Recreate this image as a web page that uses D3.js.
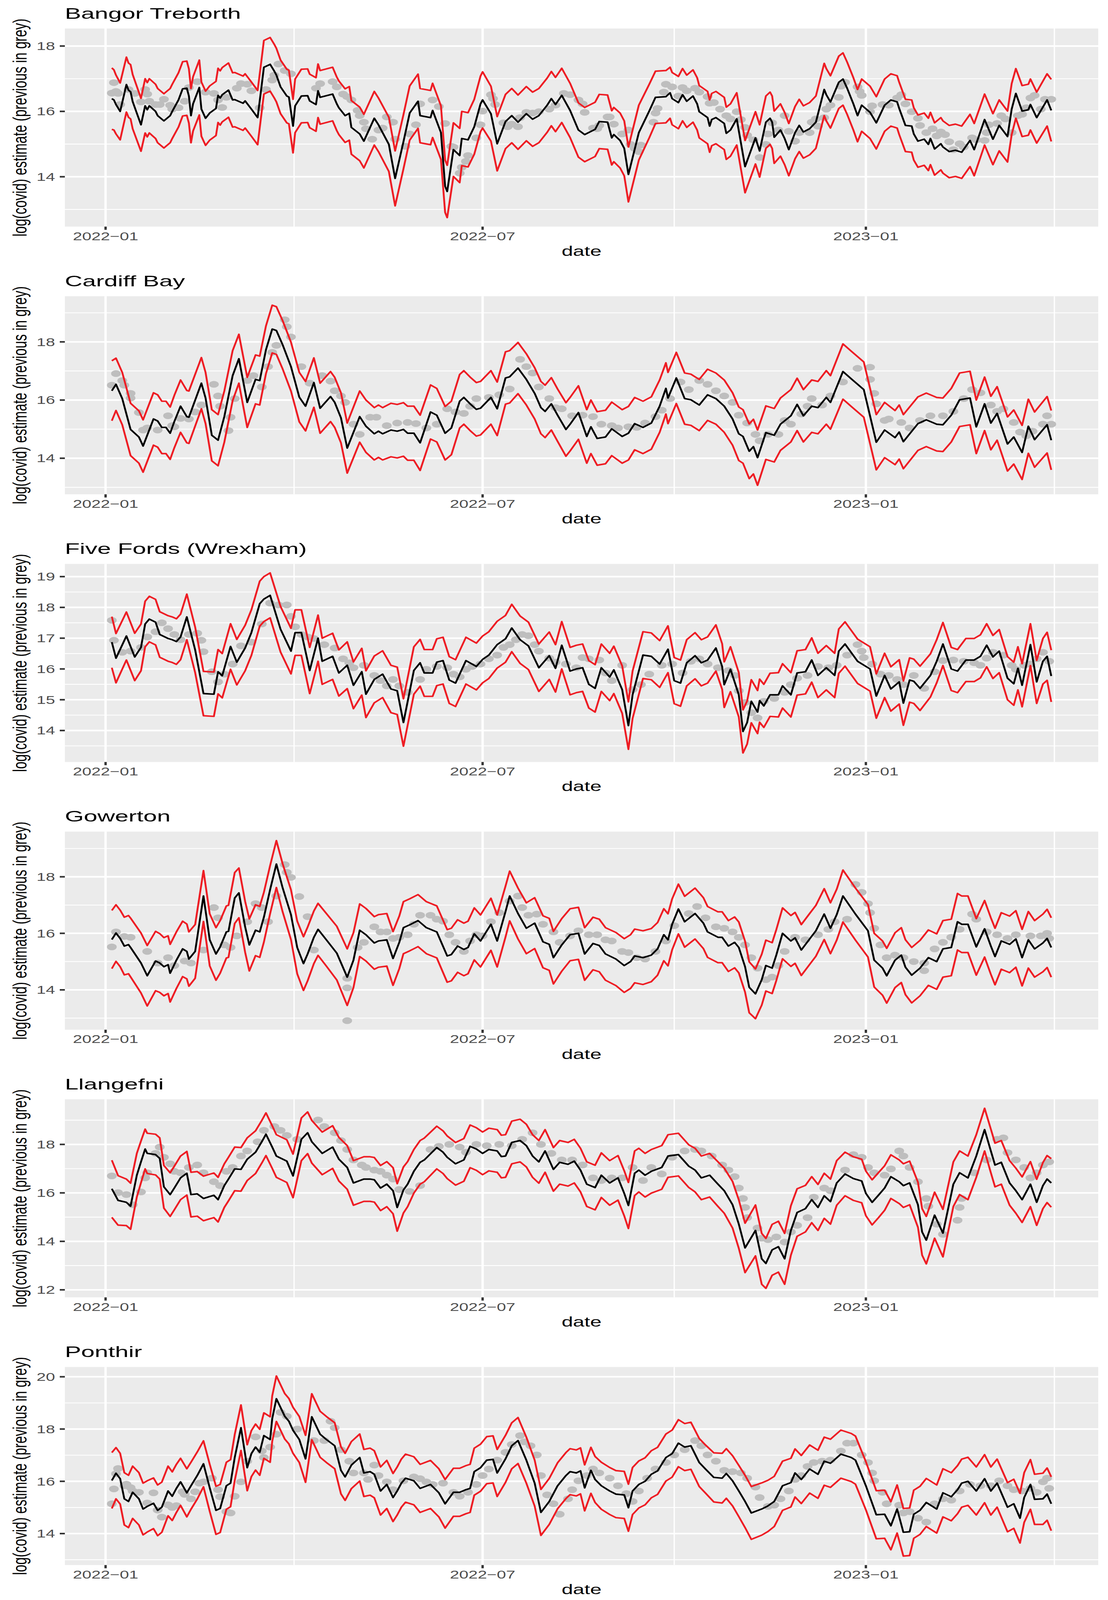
<!DOCTYPE html>
<html>
<head>
<meta charset="utf-8">
<script src="https://cdn.jsdelivr.net/npm/d3@7"></script>
<style>
  html, body { margin: 0; padding: 0; background: #fff; overflow: hidden; }
  svg { display: block; width: 100vw; height: 100vh; }
</style>
</head>
<body>
<script>
// sites, one panel each
const siteNames = ['Bangor Treborth', 'Cardiff Bay', 'Five Fords (Wrexham)', 'Gowerton', 'Llangefni', 'Ponthir'];

// estimate rows: [day since 2022-01-01, log estimate, half width of red band]
const bangorEst = [[3,16.39,.94],[4,16.35,.92],[5,16.21,.9],[7,16.0,.87],[10,16.82,.84],[11,16.65,.83],[12,16.6,.83],[13,16.3,.83],[17,15.59,.81],[19,16.17,.83],[20,16.05,.83],[21,16.17,.83],[24,16.0,.83],[25,15.87,.83],[28,15.71,.83],[31,15.87,.83],[32,16.0,.83],[35,16.35,.83],[37,16.69,.83],[39,16.71,.83],[40,16.47,.83],[41,15.87,.83],[42,16.23,.83],[45,16.73,.84],[46,16.07,.83],[48,15.79,.83],[50,15.95,.83],[53,16.09,.83],[54,16.49,.83],[55,16.41,.83],[56,16.51,.83],[59,16.65,.83],[61,16.35,.83],[62,16.36,.83],[66,16.25,.83],[67,16.32,.83],[70,16.07,.83],[73,15.81,.83],[75,16.83,.82],[76,17.35,.82],[79,17.44,.82],[81,17.23,.82],[82,17.11,.82],[84,16.75,.82],[87,16.47,.82],[88,16.44,.82],[90,15.55,.82],[91,16.17,.82],[94,16.47,.82],[97,16.48,.82],[98,16.32,.82],[101,16.21,.82],[102,16.63,.82],[103,16.43,.82],[109,16.53,.82],[111,16.23,.82],[112,16.11,.82],[115,15.87,.82],[117,15.94,.82],[118,15.51,.82],[122,15.31,.82],[124,15.09,.82],[129,15.79,.82],[131,15.59,.82],[136,14.99,.83],[139,13.95,.84],[143,15.07,.83],[146,15.95,.83],[150,16.31,.83],[151,15.87,.83],[156,15.81,.83],[157,16.03,.83],[161,15.35,.82],[163,13.71,.8],[164,13.55,.8],[167,14.83,.82],[170,14.65,.83],[171,15.17,.83],[174,15.13,.83],[177,15.53,.84],[180,16.23,.85],[181,16.35,.86],[185,15.93,.84],[188,15.01,.83],[192,15.69,.83],[195,15.87,.83],[198,15.67,.83],[202,15.93,.83],[205,15.76,.83],[208,15.87,.83],[212,16.19,.83],[214,16.39,.83],[216,16.21,.83],[219,16.49,.83],[223,16.03,.83],[227,15.43,.83],[230,15.29,.83],[235,15.45,.83],[237,15.69,.83],[241,15.67,.83],[243,15.19,.83],[244,15.29,.83],[247,15.11,.84],[249,14.87,.84],[251,14.07,.84],[256,15.35,.84],[261,16.01,.82],[264,16.43,.8],[269,16.45,.8],[271,16.57,.78],[272,16.39,.8],[275,16.27,.8],[277,16.51,.8],[279,16.31,.8],[282,16.47,.8],[284,16.23,.8],[285,15.99,.8],[289,15.81,.8],[290,15.55,.8],[291,15.75,.8],[293,15.81,.8],[297,15.63,.8],[298,15.33,.8],[300,15.43,.8],[303,15.77,.8],[307,14.31,.8],[312,15.19,.8],[314,14.79,.8],[317,15.67,.8],[319,15.79,.8],[320,15.67,.8],[321,15.21,.8],[324,15.43,.8],[326,15.17,.8],[328,14.83,.8],[331,15.35,.8],[333,15.57,.8],[335,15.37,.8],[338,15.47,.8],[341,15.67,.8],[345,16.67,.8],[346,16.51,.8],[348,16.29,.8],[352,16.89,.8],[354,16.99,.8],[356,16.71,.8],[359,16.23,.8],[361,15.87,.8],[363,16.19,.8],[367,15.97,.8],[370,15.65,.8],[374,16.19,.8],[377,16.35,.8],[380,16.29,.8],[381,16.09,.8],[384,15.57,.8],[387,15.55,.8],[388,15.31,.8],[390,15.09,.8],[393,15.15,.8],[395,14.99,.8],[396,15.17,.8],[398,14.85,.8],[401,15.01,.8],[402,14.91,.8],[405,14.77,.8],[408,14.81,.8],[411,14.75,.8],[415,15.11,.8],[417,14.83,.8],[422,15.75,.78],[426,15.15,.78],[429,15.57,.78],[433,15.23,.78],[435,16.07,.78],[437,16.55,.76],[440,16.01,.78],[443,16.05,.78],[444,16.21,.78],[447,15.81,.78],[452,16.35,.8],[454,16.03,.95]];

const cardiffEst = [[3,16.32,1.03],[5,16.54,.9],[8,16.05,.9],[12,14.99,.9],[16,14.73,.9],[18,14.42,.9],[23,15.35,.9],[25,15.28,.9],[27,15.06,.9],[29,15.06,.9],[31,14.86,.9],[33,15.26,.9],[36,15.79,.9],[39,15.43,.9],[40,15.41,.9],[46,16.58,.88],[48,16.07,.88],[51,14.79,.88],[54,14.62,.88],[57,15.43,.88],[61,16.84,.86],[64,17.42,.84],[68,15.92,.86],[72,16.71,.84],[74,16.67,.84],[77,17.73,.82],[80,18.44,.82],[82,18.39,.82],[85,17.9,.83],[89,17.15,.84],[93,16.1,.85],[96,15.79,.85],[100,16.6,.85],[103,15.72,.86],[108,16.12,.86],[110,15.92,.86],[113,15.39,.86],[116,14.35,.86],[122,15.43,.88],[125,15.1,.9],[129,14.84,.9],[131,14.93,.9],[133,14.84,.9],[137,14.97,.92],[140,14.93,.92],[143,14.99,.92],[145,14.86,.93],[148,14.86,.93],[151,14.53,.95],[156,15.59,.93],[159,15.48,.92],[163,14.86,.92],[166,15.04,.92],[170,15.96,.92],[172,16.09,.92],[175,15.87,.92],[178,15.68,.92],[180,15.72,.92],[185,16.09,.92],[188,15.7,.92],[192,16.76,.9],[194,16.8,.9],[198,17.1,.88],[202,16.71,.88],[206,16.23,.88],[209,15.74,.9],[211,15.61,.9],[214,15.87,.9],[217,15.48,.9],[221,14.99,.92],[223,15.17,.92],[227,15.57,.92],[231,14.75,.92],[233,15.08,.92],[236,14.68,.92],[240,14.73,.92],[243,15.01,.92],[248,14.75,.92],[251,14.86,.92],[254,15.19,.9],[258,15.06,.9],[262,15.21,.9],[266,15.79,.9],[269,16.4,.88],[270,16.07,.88],[274,16.76,.88],[278,16.05,.88],[281,16.01,.88],[285,15.83,.88],[289,16.18,.88],[293,16.05,.88],[297,15.79,.9],[301,15.35,.9],[304,14.84,.92],[306,14.75,.92],[309,14.24,.94],[311,14.4,.94],[313,14.02,.95],[317,14.88,.92],[321,14.79,.92],[324,15.17,.9],[329,15.46,.9],[332,15.85,.9],[335,15.46,.9],[339,15.79,.9],[342,15.74,.9],[346,16.09,.92],[348,15.92,.92],[354,16.98,.95],[358,16.73,.95],[364,16.36,.95],[370,14.55,.95],[374,14.97,.95],[379,14.71,.93],[381,14.9,.93],[383,14.57,.93],[390,15.19,.92],[394,15.32,.92],[399,15.17,.92],[402,15.15,.92],[406,15.48,.92],[410,16.01,.92],[415,16.07,.92],[418,15.08,.92],[422,15.87,.92],[425,15.21,.92],[428,15.54,.92],[433,14.49,.93],[436,14.73,.93],[440,14.2,.93],[443,15.1,.93],[446,14.64,.95],[452,15.15,.97],[454,14.62,1.02]];

const fiveFordsEst = [[3,16.87,.83],[5,16.35,.8],[10,17.07,.78],[14,16.39,.77],[17,16.7,.76],[19,17.46,.74],[21,17.62,.74],[24,17.52,.74],[26,17.12,.74],[30,16.99,.74],[32,16.95,.74],[34,16.89,.74],[36,17.04,.74],[39,17.69,.74],[43,16.62,.74],[47,15.2,.72],[52,15.18,.72],[54,15.91,.72],[56,15.78,.72],[60,16.73,.74],[63,16.22,.74],[67,16.68,.74],[70,17.18,.74],[74,18.12,.73],[76,18.27,.73],[79,18.39,.73],[84,17.29,.74],[89,16.58,.74],[91,17.18,.74],[94,17.18,.74],[98,15.95,.75],[102,17.0,.75],[104,16.25,.75],[109,16.41,.75],[112,15.87,.75],[116,16.12,.76],[119,15.47,.76],[123,15.91,.76],[125,15.18,.76],[129,15.66,.76],[133,15.83,.76],[137,15.35,.77],[140,15.29,.77],[143,14.26,.77],[148,15.95,.77],[151,16.2,.76],[153,15.87,.76],[157,15.87,.76],[159,16.22,.76],[162,16.27,.76],[165,15.64,.76],[168,15.54,.76],[173,16.27,.76],[178,16.08,.76],[181,16.31,.76],[184,16.45,.76],[188,16.79,.76],[192,16.98,.76],[195,17.33,.77],[199,16.95,.77],[203,16.75,.77],[208,16.04,.77],[213,16.43,.77],[216,16.02,.77],[219,16.77,.77],[223,15.93,.77],[226,16.0,.77],[229,16.04,.77],[232,15.5,.77],[235,15.37,.77],[238,16.04,.77],[242,15.74,.77],[244,15.97,.77],[248,15.33,.77],[251,14.16,.77],[253,15.16,.77],[258,16.45,.76],[262,16.41,.76],[266,16.16,.76],[270,16.64,.76],[273,15.62,.75],[276,15.54,.75],[279,16.2,.75],[283,16.43,.75],[286,16.2,.75],[289,16.29,.75],[293,16.68,.75],[296,16.08,.74],[297,15.49,.74],[300,15.99,.73],[304,15.16,.72],[306,13.97,.7],[308,14.26,.7],[310,14.95,.7],[313,14.6,.7],[314,14.97,.7],[316,14.8,.7],[319,15.16,.7],[323,15.16,.72],[325,15.45,.72],[329,15.16,.72],[332,15.87,.72],[336,15.91,.72],[339,16.29,.72],[342,15.79,.72],[346,16.04,.72],[350,15.79,.72],[352,16.58,.72],[355,16.81,.72],[361,16.25,.72],[367,16.0,.72],[370,15.12,.72],[374,15.79,.72],[377,15.35,.72],[381,15.58,.72],[383,14.89,.72],[386,15.64,.72],[388,15.6,.72],[391,15.37,.72],[396,15.79,.7],[399,16.25,.7],[402,16.81,.7],[406,16.0,.7],[409,15.93,.7],[413,16.29,.7],[417,16.29,.7],[420,16.41,.7],[423,16.77,.7],[426,16.39,.7],[429,16.58,.7],[433,15.7,.7],[436,15.52,.7],[438,16.02,.7],[440,15.47,.7],[444,16.79,.68],[447,15.58,.7],[450,16.25,.74],[452,16.41,.78],[454,15.77,.84]];

const gowertonEst = [[3,15.78,1.03],[5,16.01,1.0],[7,15.82,1.0],[9,15.55,1.02],[11,15.6,1.03],[12,15.5,1.04],[17,14.95,1.06],[20,14.5,1.07],[24,15.02,1.05],[26,14.95,1.04],[28,14.82,1.03],[30,14.89,1.02],[31,14.59,1.02],[34,15.05,1.0],[37,15.45,.98],[39,15.36,.97],[40,15.09,.96],[43,15.36,.95],[47,17.32,.9],[50,15.77,.92],[53,15.27,.93],[55,15.52,.93],[58,16.05,.92],[59,16.07,.92],[62,17.25,.9],[64,17.43,.88],[67,16.23,.9],[69,15.59,.92],[72,16.11,.9],[74,16.05,.9],[76,16.57,.88],[79,17.55,.85],[82,18.45,.83],[85,17.61,.85],[89,16.66,.88],[92,15.5,.93],[95,14.93,.95],[97,15.27,.95],[100,15.86,.93],[102,16.14,.92],[106,15.77,.93],[111,15.3,.95],[116,14.45,1.0],[119,15.05,.97],[122,16.11,.93],[125,15.95,.93],[129,15.66,.93],[131,15.73,.93],[135,15.77,.93],[138,15.11,.95],[141,15.68,.93],[143,16.2,.92],[146,16.3,.92],[150,16.45,.92],[154,16.2,.92],[159,16.05,.92],[164,15.2,.93],[166,15.25,.93],[169,15.55,.93],[172,15.43,.93],[174,15.5,.93],[177,15.98,.92],[180,15.73,.92],[185,16.32,.92],[188,15.73,.92],[192,16.77,.9],[194,17.32,.88],[198,16.7,.9],[202,16.18,.9],[206,16.36,.9],[210,15.7,.92],[213,15.61,.92],[215,15.14,.93],[219,15.59,.93],[223,15.95,.92],[227,16.0,.92],[230,15.27,.93],[234,15.64,.93],[237,15.57,.93],[240,15.27,.93],[245,15.09,.94],[249,14.86,.95],[252,15.0,.95],[254,15.2,.95],[258,15.14,.95],[262,15.23,.94],[265,15.45,.93],[268,15.95,.92],[270,15.77,.92],[272,16.32,.9],[275,16.86,.88],[278,16.41,.9],[283,16.7,.9],[287,16.36,.9],[289,16.05,.9],[294,15.86,.9],[296,15.86,.9],[299,15.55,.9],[302,15.68,.9],[304,15.5,.9],[307,14.82,.9],[309,14.09,.9],[312,13.86,.88],[315,14.36,.9],[317,14.86,.9],[320,14.77,.9],[322,15.23,.9],[325,16.0,.9],[329,15.73,.9],[331,15.84,.9],[334,15.41,.9],[338,15.8,.9],[341,16.09,.9],[345,16.68,.9],[348,16.18,.9],[351,16.66,.9],[354,17.32,.92],[360,16.68,.92],[366,16.09,.93],[369,15.05,.95],[373,14.77,.96],[375,14.5,.97],[379,15.05,.97],[382,15.23,.97],[384,14.8,.97],[387,14.52,.98],[391,14.77,.98],[395,15.14,.98],[399,15.0,.98],[402,15.45,1.0],[406,15.5,1.0],[409,16.41,1.0],[411,16.32,1.0],[414,16.32,1.0],[418,15.52,1.0],[422,16.16,1.0],[425,15.55,1.0],[427,15.18,1.0],[430,15.73,1.0],[434,15.61,1.0],[437,15.8,1.0],[440,15.14,1.0],[443,15.77,1.0],[446,15.45,1.0],[450,15.66,1.02],[452,15.82,1.03],[454,15.5,1.05]];

const llangefniEst = [[3,16.17,1.18],[6,15.69,1.02],[10,15.61,.96],[12,15.45,.95],[15,16.73,.9],[17,17.28,.86],[19,17.81,.82],[20,17.63,.83],[24,17.58,.84],[26,17.42,.85],[28,16.25,.88],[31,15.93,.9],[33,16.2,.9],[36,16.62,.9],[39,16.81,.9],[41,15.93,.92],[44,15.96,.92],[47,15.77,.92],[50,15.85,.92],[52,15.9,.92],[54,15.72,.92],[57,16.3,.9],[59,16.57,.9],[62,16.99,.9],[65,16.97,.9],[68,17.39,.88],[72,17.68,.88],[75,18.11,.88],[77,18.42,.88],[80,17.89,.88],[82,17.52,.88],[87,17.31,.88],[90,16.7,.9],[94,18.21,.88],[97,18.48,.86],[99,18.11,.88],[104,17.63,.88],[109,17.89,.88],[112,17.39,.9],[116,17.05,.9],[119,16.41,.92],[124,16.57,.92],[127,16.57,.92],[129,16.54,.92],[132,16.2,.93],[135,16.36,.93],[138,16.09,.95],[140,15.4,.98],[143,16.12,.95],[145,16.36,.93],[148,16.89,.9],[151,17.26,.9],[153,17.36,.9],[159,17.87,.88],[162,17.68,.88],[164,17.47,.88],[168,17.2,.88],[172,17.36,.88],[175,17.92,.88],[178,17.81,.88],[181,17.63,.88],[184,17.79,.88],[188,17.73,.88],[190,17.5,.88],[192,17.52,.88],[195,18.08,.88],[199,18.16,.88],[202,17.95,.88],[205,17.52,.88],[208,17.28,.88],[211,17.73,.88],[215,16.97,.9],[218,17.26,.9],[222,17.18,.9],[225,17.31,.9],[228,16.94,.9],[231,16.36,.92],[235,16.22,.92],[238,16.73,.92],[242,16.41,.92],[246,16.62,.92],[249,15.98,.93],[251,15.48,.95],[254,16.81,.92],[256,16.94,.9],[259,16.73,.9],[262,16.89,.9],[267,17.05,.9],[270,17.52,.88],[275,17.58,.88],[280,17.1,.88],[283,16.94,.9],[286,16.62,.9],[290,16.73,.9],[294,16.36,.92],[297,16.09,.93],[301,15.51,.96],[304,14.71,1.0],[307,13.73,1.02],[312,14.45,1.05],[315,13.28,1.05],[317,13.09,1.03],[320,13.65,1.05],[323,13.78,1.05],[326,13.28,1.05],[329,14.45,1.02],[332,15.19,.98],[336,15.35,.96],[339,15.72,.95],[342,15.4,.95],[345,15.88,.93],[348,15.64,.93],[351,16.41,.92],[355,16.78,.9],[359,16.59,.9],[363,16.49,.9],[365,15.98,.92],[368,15.61,.93],[371,15.9,.93],[374,16.2,.92],[377,16.67,.9],[381,16.46,.9],[383,16.3,.9],[386,16.41,.9],[390,15.51,.93],[392,14.39,.96],[394,14.05,.98],[398,15.08,.95],[402,14.34,.98],[407,16.36,.92],[410,16.83,.9],[414,16.62,.9],[418,17.52,.88],[422,18.61,.88],[425,17.73,.9],[427,17.15,.9],[430,17.26,.9],[434,16.41,.92],[437,16.09,.93],[440,15.72,.94],[444,16.36,.93],[447,15.61,.95],[450,16.3,.95],[452,16.57,.97],[454,16.41,1.0]];

const ponthirEst = [[3,16.03,1.07],[5,16.31,.98],[7,16.1,.97],[9,15.33,1.0],[11,15.23,1.0],[13,15.58,1.0],[16,15.33,1.0],[18,14.94,.99],[20,15.04,.98],[23,15.16,.97],[25,14.89,.97],[27,15.01,.96],[30,15.63,.95],[32,15.43,.93],[34,15.73,.92],[36,15.98,.9],[39,15.56,.92],[41,15.83,.9],[44,16.22,.9],[47,16.67,.88],[50,15.75,.9],[53,14.89,.92],[55,14.96,.92],[58,15.83,.9],[60,15.93,.9],[62,16.91,.88],[65,18.05,.87],[68,16.52,.88],[70,17.06,.88],[72,17.31,.88],[74,17.11,.88],[76,17.75,.87],[79,17.6,.87],[80,18.4,.87],[82,19.16,.87],[86,18.49,.87],[88,18.3,.87],[90,17.95,.88],[93,17.6,.88],[96,16.86,.9],[99,18.47,.88],[103,17.8,.88],[106,17.6,.88],[110,17.36,.88],[113,16.42,.9],[115,16.17,.9],[118,16.62,.9],[122,16.91,.9],[124,16.32,.9],[127,16.37,.9],[129,16.27,.9],[132,15.63,.92],[135,15.88,.92],[138,15.38,.92],[140,15.63,.92],[142,15.93,.92],[144,16.12,.92],[148,16.02,.92],[151,15.73,.92],[156,15.88,.92],[160,15.56,.92],[163,15.14,.93],[167,15.58,.92],[170,15.58,.92],[173,15.68,.92],[175,15.73,.92],[177,16.37,.9],[180,16.52,.9],[183,16.81,.9],[186,16.84,.9],[188,16.32,.9],[192,16.86,.9],[195,17.36,.88],[198,17.56,.88],[202,16.81,.88],[206,15.93,.88],[209,14.81,.88],[213,15.23,.88],[217,15.83,.88],[221,16.22,.88],[223,16.37,.88],[226,16.32,.88],[228,16.4,.88],[230,15.75,.88],[233,16.42,.88],[235,16.07,.88],[238,15.83,.9],[242,15.63,.9],[245,15.51,.9],[249,15.48,.9],[251,14.99,.9],[253,15.63,.9],[256,15.88,.9],[259,16.0,.9],[262,16.27,.9],[265,16.4,.9],[269,16.91,.9],[272,17.06,.9],[275,17.46,.9],[278,17.31,.9],[281,17.36,.9],[285,16.72,.92],[288,16.47,.92],[292,16.15,.94],[296,16.12,.95],[298,16.3,.95],[301,16.02,.96],[304,15.63,.98],[307,15.23,1.0],[310,14.79,1.01],[315,14.94,1.0],[318,15.06,.98],[321,15.23,.96],[325,15.83,.94],[329,15.95,.93],[331,16.32,.92],[334,16.07,.92],[338,16.47,.92],[342,16.27,.92],[345,16.77,.92],[348,16.69,.92],[353,17.04,.92],[358,16.91,.92],[360,16.81,.92],[365,15.83,.92],[370,14.72,.92],[374,14.74,.92],[377,14.3,.92],[380,14.94,.92],[383,14.05,.91],[386,14.07,.91],[388,14.74,.92],[391,14.89,.92],[394,15.19,.92],[399,14.94,.92],[402,15.56,.92],[406,15.41,.92],[409,15.68,.92],[411,15.93,.92],[414,16.0,.92],[418,15.63,.92],[422,16.1,.92],[425,15.63,.92],[428,15.93,.92],[433,15.01,.94],[436,15.14,.94],[439,14.59,.95],[441,15.38,.95],[444,15.88,.95],[446,15.31,.96],[450,15.33,.98],[452,15.51,1.0],[454,15.14,1.03]];

// previous estimates (grey points): [day, log estimate]
const bangorPrev = [[3,16.56],[4,16.88],[5,16.61],[6,16.55],[7,16.21],[11,16.67],[14,16.55],[17,16.29],[19,16.67],[20,16.53],[21,16.31],[24,16.21],[26,16.21],[28,16.37],[31,16.19],[32,16.07],[35,16.11],[38,16.31],[40,16.73],[44,16.91],[48,16.59],[52,16.55],[54,16.35],[56,16.12],[58,16.43],[63,16.71],[65,16.85],[68,16.83],[70,16.63],[74,16.11],[77,16.67],[80,16.96],[81,17.11],[83,17.45],[86,17.25],[89,17.15],[101,16.71],[103,16.85],[109,16.91],[111,16.75],[114,16.53],[116,16.45],[118,16.35],[121,16.03],[122,15.87],[124,15.67],[125,15.47],[128,15.15],[131,15.43],[133,15.49],[135,15.83],[138,15.67],[139,15.15],[144,14.93],[146,15.31],[149,15.59],[151,16.23],[157,16.35],[160,16.15],[163,15.63],[166,14.93],[167,14.91],[170,14.11],[171,14.29],[173,14.47],[174,14.65],[178,15.19],[180,15.59],[181,16.01],[185,16.51],[186,16.39],[187,16.21],[191,15.65],[193,15.53],[195,15.61],[198,15.53],[199,15.81],[202,15.97],[205,15.95],[208,15.99],[213,16.07],[216,16.19],[220,16.55],[223,16.51],[227,16.35],[229,16.23],[230,15.97],[234,15.49],[236,15.47],[237,15.57],[241,15.83],[242,15.83],[244,15.61],[248,15.31],[251,15.43],[252,14.99],[254,14.87],[256,14.77],[257,14.97],[263,15.67],[264,15.95],[265,16.09],[268,16.59],[269,16.83],[272,16.75],[275,16.47],[277,16.73],[279,16.63],[283,16.71],[285,16.59],[289,16.45],[290,16.25],[292,16.27],[295,16.07],[298,15.87],[300,15.77],[303,15.99],[305,15.75],[307,15.51],[308,15.27],[311,15.13],[314,14.59],[317,14.99],[318,15.31],[320,15.65],[323,15.43],[326,15.87],[328,15.39],[331,15.09],[333,15.35],[338,15.35],[339,15.67],[341,15.77],[342,15.55],[345,15.81],[346,16.07],[348,16.19],[352,16.43],[353,16.77],[355,16.89],[361,16.75],[362,16.61],[363,16.49],[367,15.99],[368,16.17],[373,16.21],[376,16.19],[380,16.41],[382,16.51],[384,16.23],[387,15.99],[390,15.79],[391,15.57],[394,15.35],[397,15.47],[399,15.25],[401,15.37],[403,15.29],[405,15.07],[407,14.83],[410,15.01],[412,14.91],[416,15.19],[418,15.13],[422,15.11],[423,15.35],[424,15.59],[428,15.63],[430,15.87],[432,15.77],[435,15.35],[438,15.87],[440,15.91],[442,16.11],[444,16.41],[446,16.49],[449,16.07],[451,16.37],[454,16.37]];

const cardiffPrev = [[3,16.51],[5,16.91],[8,16.67],[9,16.51],[12,16.23],[12,16.07],[16,15.57],[18,14.97],[20,15.04],[25,14.97],[30,15.46],[32,15.12],[33,15.08],[36,15.37],[40,15.35],[43,15.59],[46,15.83],[52,16.54],[54,16.14],[55,15.79],[59,14.95],[60,15.41],[62,16.05],[68,16.67],[71,16.84],[75,16.45],[78,17.15],[80,17.64],[82,17.88],[86,18.76],[87,18.52],[89,18.17],[94,17.15],[98,16.58],[104,16.84],[108,16.65],[110,16.32],[113,16.14],[115,15.92],[119,15.17],[122,14.82],[127,15.41],[130,15.41],[135,15.12],[140,15.21],[145,15.23],[149,15.19],[154,15.04],[159,15.17],[164,15.7],[168,15.59],[172,15.54],[175,15.79],[178,16.05],[184,16.09],[189,16.18],[194,16.38],[199,17.4],[202,17.15],[205,16.93],[208,16.45],[213,16.05],[216,15.74],[219,15.7],[224,15.46],[229,15.48],[234,15.43],[238,15.17],[243,15.12],[246,15.04],[251,15.08],[255,15.06],[259,15.21],[264,15.43],[267,15.65],[271,16.05],[276,16.62],[280,16.36],[285,16.67],[289,16.54],[293,16.32],[297,16.14],[301,15.92],[304,15.48],[308,15.21],[312,14.82],[314,14.6],[318,14.82],[323,14.82],[326,15.3],[329,15.17],[334,15.52],[337,15.79],[339,16.05],[344,15.83],[348,16.14],[354,16.62],[361,17.09],[367,17.13],[367,16.71],[369,16.23],[370,15.87],[374,15.3],[376,15.35],[382,15.23],[386,15.04],[391,15.3],[396,15.46],[402,15.46],[407,15.61],[412,16.05],[416,16.36],[420,16.25],[425,15.83],[428,15.61],[431,15.7],[436,15.23],[439,14.9],[442,14.77],[445,14.93],[450,15.17],[452,15.46],[454,15.17]];

const fiveFordsPrev = [[3,17.58],[4,16.93],[8,16.54],[12,16.58],[17,16.7],[20,17.04],[24,17.21],[27,17.5],[30,17.31],[33,17.12],[36,16.95],[40,17.12],[44,17.16],[46,16.93],[47,16.56],[51,15.91],[54,15.58],[57,15.83],[61,16.16],[65,16.75],[70,16.87],[75,17.46],[79,18.14],[83,18.08],[87,18.08],[89,17.71],[91,17.37],[94,17.12],[97,17.04],[100,16.99],[105,16.79],[110,16.68],[114,16.33],[117,16.2],[119,16.04],[124,16.12],[129,15.79],[132,15.62],[135,15.45],[138,15.66],[141,15.45],[145,15.24],[151,15.66],[154,15.99],[159,16.08],[164,16.04],[167,15.83],[170,15.74],[173,15.99],[176,16.08],[180,16.16],[184,16.33],[188,16.45],[191,16.7],[194,16.79],[197,16.95],[200,17.12],[203,17.08],[206,16.79],[208,16.58],[213,16.35],[216,16.22],[221,16.16],[226,16.04],[229,16.37],[232,16.33],[237,16.29],[240,15.87],[243,15.62],[248,16.12],[253,15.33],[257,15.49],[261,15.83],[267,16.12],[272,16.16],[277,15.87],[281,16.25],[285,16.33],[289,16.16],[294,16.04],[299,15.95],[302,15.79],[304,15.29],[307,14.91],[310,14.58],[313,14.41],[316,14.95],[321,15.04],[326,15.24],[329,15.49],[332,15.7],[337,15.79],[342,16.08],[347,16.04],[351,16.12],[356,16.45],[361,16.79],[363,16.58],[364,16.37],[368,16.16],[372,15.83],[376,15.79],[380,15.66],[383,15.49],[388,15.79],[393,15.37],[398,15.91],[402,16.27],[407,16.29],[412,16.25],[417,16.2],[420,16.12],[423,16.35],[426,16.54],[431,16.45],[435,16.12],[437,15.99],[441,16.12],[444,16.16],[447,16.33],[450,16.54],[453,16.25]];

const gowertonPrev = [[3,15.52],[5,16.05],[9,15.89],[12,15.86],[20,15.36],[25,14.95],[30,15.14],[33,14.86],[38,15.02],[41,14.95],[47,15.41],[52,16.91],[54,16.55],[57,15.59],[60,15.5],[63,15.91],[68,16.41],[72,17.05],[75,16.91],[78,16.41],[82,17.32],[86,18.43],[87,18.16],[89,17.98],[93,17.3],[97,16.59],[100,15.41],[116,14.41],[116,14.07],[116,12.91],[121,15.5],[124,15.68],[129,16.23],[132,16.05],[135,16.05],[138,15.82],[141,15.86],[145,15.95],[148,16.32],[151,16.64],[156,16.64],[159,16.5],[162,16.43],[165,15.95],[168,15.68],[172,15.36],[175,15.73],[178,15.95],[181,15.91],[185,16.41],[189,16.73],[194,17.14],[198,17.32],[200,16.91],[203,16.64],[207,16.68],[210,16.32],[215,16.05],[218,15.68],[223,15.91],[227,16.09],[232,15.95],[236,15.95],[240,15.77],[243,15.73],[248,15.36],[251,15.32],[255,15.14],[259,15.09],[264,15.36],[269,15.73],[273,16.27],[280,16.7],[284,16.95],[288,16.55],[293,16.23],[297,16.18],[301,16.05],[304,15.86],[307,15.59],[310,15.14],[313,14.77],[317,14.36],[320,14.45],[323,14.86],[326,15.36],[331,15.86],[336,15.77],[342,15.95],[347,16.14],[350,16.41],[356,16.5],[360,17.73],[363,17.45],[366,17.05],[367,16.73],[369,16.18],[372,15.59],[375,15.14],[379,15.23],[383,15.14],[388,15.0],[393,14.95],[393,14.68],[398,15.45],[402,15.68],[406,15.86],[410,16.14],[416,16.68],[418,16.5],[423,16.05],[428,15.95],[433,15.82],[437,15.95],[444,15.91],[449,15.91],[452,16.0],[453,15.82]];

const llangefniPrev = [[3,16.7],[6,16.01],[10,15.93],[13,15.51],[17,16.04],[19,16.62],[20,16.83],[24,17.63],[26,17.89],[28,17.47],[31,17.2],[33,16.89],[36,16.83],[40,17.05],[44,17.15],[47,16.83],[52,16.46],[55,16.3],[58,16.89],[61,17.05],[65,17.52],[68,17.73],[73,18.11],[76,18.58],[81,18.74],[84,18.58],[87,18.37],[92,18.21],[102,19.01],[105,18.74],[110,18.48],[113,18.16],[116,17.79],[119,17.36],[123,17.15],[125,17.05],[129,16.94],[132,16.89],[135,16.73],[138,16.57],[141,16.14],[146,16.06],[151,16.3],[156,17.79],[160,17.92],[165,18.0],[170,17.89],[173,17.68],[178,18.0],[183,17.95],[189,18.0],[195,17.95],[200,18.21],[205,18.48],[209,18.0],[214,17.63],[219,17.36],[224,17.36],[229,17.15],[234,16.62],[238,16.51],[243,16.62],[248,16.62],[253,17.05],[258,16.51],[262,17.05],[267,16.78],[272,17.47],[278,17.73],[283,17.79],[286,17.73],[291,17.52],[296,17.15],[299,16.94],[302,16.67],[304,16.2],[306,15.77],[307,15.4],[308,14.98],[313,14.55],[315,14.13],[318,14.07],[322,14.18],[326,13.97],[329,14.39],[332,14.66],[337,14.98],[340,15.82],[345,16.2],[348,16.09],[355,16.94],[359,17.58],[363,17.47],[366,17.05],[369,16.83],[374,16.73],[377,16.99],[381,17.73],[383,17.52],[386,17.05],[390,16.46],[394,15.77],[395,15.45],[399,14.71],[402,14.29],[409,14.87],[410,15.4],[411,15.77],[417,16.83],[423,17.36],[428,18.21],[431,18.27],[433,17.66],[437,17.36],[441,17.05],[444,16.62],[447,16.83],[450,17.15],[453,17.28]];

const ponthirPrev = [[3,15.14],[4,15.71],[5,16.29],[6,16.49],[9,15.83],[10,15.89],[12,15.76],[13,15.63],[16,15.58],[20,15.17],[23,15.56],[25,14.9],[27,14.63],[30,15.1],[32,15.0],[34,15.07],[37,15.6],[38,15.5],[41,15.33],[43,15.6],[45,15.93],[47,15.98],[51,16.12],[54,15.68],[55,15.41],[58,14.84],[60,14.79],[62,15.43],[65,15.98],[68,16.77],[72,17.7],[75,17.16],[76,16.91],[79,17.31],[82,17.8],[84,18.64],[87,18.49],[92,18.0],[100,17.56],[105,17.56],[108,18.3],[110,18.05],[113,17.21],[117,16.77],[119,16.32],[124,16.32],[126,16.07],[129,16.62],[131,16.22],[135,15.98],[138,15.68],[143,16.02],[148,16.17],[151,16.1],[154,15.98],[157,15.88],[162,15.93],[167,15.58],[170,15.43],[174,15.58],[178,15.88],[181,16.22],[184,16.47],[188,16.81],[192,17.11],[195,17.41],[199,17.75],[201,17.51],[204,17.36],[207,17.01],[209,16.22],[212,15.48],[215,15.14],[218,14.74],[222,15.33],[224,15.68],[227,16.02],[231,16.22],[234,16.47],[237,16.32],[242,16.12],[246,15.83],[250,15.53],[253,15.23],[256,15.63],[260,16.12],[264,16.47],[269,16.72],[273,17.01],[278,17.21],[283,17.56],[286,17.36],[289,17.01],[293,16.77],[297,16.42],[301,16.37],[305,16.32],[308,16.12],[312,15.78],[314,15.38],[318,15.04],[321,15.09],[324,15.33],[328,15.63],[331,16.07],[334,16.22],[337,16.57],[340,16.72],[344,16.77],[348,16.81],[353,17.16],[356,17.46],[359,17.46],[363,17.01],[366,16.72],[368,16.32],[369,16.02],[373,15.58],[375,15.14],[381,15.09],[383,14.79],[386,14.84],[390,14.59],[394,14.44],[398,15.14],[402,15.33],[406,15.28],[410,15.63],[415,15.88],[420,15.83],[425,15.83],[429,16.02],[433,15.83],[436,15.68],[440,15.63],[444,15.73],[447,15.58],[450,15.98],[452,16.12],[453,15.73]];

// y breaks per panel and x breaks
const bangorTicks = [14, 16, 18];
const cardiffTicks = [14, 16, 18];
const fiveFordsTicks = [14, 15, 16, 17, 18, 19];
const gowertonTicks = [14, 16, 18];
const llangefniTicks = [12, 14, 16, 18];
const ponthirTicks = [14, 16, 18, 20];
const xBreaks = ['2022-01-01', '2022-07-01', '2023-01-01'];

const panels = [
  { title: siteNames[0], est: bangorEst, prev: bangorPrev, ticks: bangorTicks },
  { title: siteNames[1], est: cardiffEst, prev: cardiffPrev, ticks: cardiffTicks },
  { title: siteNames[2], est: fiveFordsEst, prev: fiveFordsPrev, ticks: fiveFordsTicks },
  { title: siteNames[3], est: gowertonEst, prev: gowertonPrev, ticks: gowertonTicks },
  { title: siteNames[4], est: llangefniEst, prev: llangefniPrev, ticks: llangefniTicks },
  { title: siteNames[5], est: ponthirEst, prev: ponthirPrev, ticks: ponthirTicks }
];

const W = 2836, H = 4992;
const blockH = 835.2, blockTop0 = -16;
const pLeft = 166, pRight = 2811, pTop = 105, pBottom = 723;
const font = '"Liberation Sans", Arial, Helvetica, sans-serif';
const stretch = 1.22;
const red = '#EE1D24';
const lineW = 4.8;

const t0 = Date.UTC(2022, 0, 1);
const toDate = d => new Date(t0 + d * 864e5);
const parseDay = d3.utcParse('%Y-%m-%d');
const fmtX = d3.utcFormat('%Y-%m');

// the drawing is laid out on a 2836 x 4992 grid and stretched to the window
const svg = d3.select('body').append('svg')
  .attr('viewBox', `0 0 ${W} ${H}`)
  .attr('preserveAspectRatio', 'none');

// ggplot style minor breaks: midpoints of the (extended) major breaks
function minorBreaks(b, lo, hi) {
  const step = b[1] - b[0];
  const ext = b.slice();
  if (lo < ext[0]) ext.unshift(ext[0] - step);
  if (hi > ext[ext.length - 1]) ext.push(ext[ext.length - 1] + step);
  const out = [];
  for (let i = 0; i < ext.length - 1; i++) out.push((ext[i] + ext[i + 1]) / 2);
  return out.filter(v => v >= lo && v <= hi);
}

panels.forEach((p, k) => {
  const g = svg.append('g').attr('transform', `translate(0,${blockTop0 + k * blockH})`);

  // x domain, expanded by 5% like ggplot
  const days = p.est.map(d => d[0]).concat(p.prev.map(d => d[0]));
  const d0 = d3.min(days), d1 = d3.max(days), dr = d1 - d0;
  const x = d3.scaleUtc()
    .domain([toDate(d0 - 0.05 * dr), toDate(d1 + 0.05 * dr)])
    .range([pLeft, pRight]);

  // y domain from bands and points
  const ylo = Math.min(d3.min(p.est, d => d[1] - d[2]), d3.min(p.prev, d => d[1]));
  const yhi = Math.max(d3.max(p.est, d => d[1] + d[2]), d3.max(p.prev, d => d[1]));
  const yr = yhi - ylo;
  const y = d3.scaleLinear()
    .domain([ylo - 0.05 * yr, yhi + 0.05 * yr])
    .range([pBottom, pTop]);

  // panel background
  g.append('rect')
    .attr('x', pLeft).attr('y', pTop)
    .attr('width', pRight - pLeft).attr('height', pBottom - pTop)
    .attr('fill', '#EBEBEB');

  const xMaj = xBreaks.map(parseDay);
  const xMajN = xMaj.map(d => +d);
  const xDom = x.domain().map(d => +d);
  const xMin = minorBreaks(xMajN, xDom[0], xDom[1]).map(v => new Date(v));
  const yDom = y.domain();
  const yMin = minorBreaks(p.ticks, yDom[0], yDom[1]);

  g.selectAll('.yminor').data(yMin).enter().append('line')
    .attr('x1', pLeft).attr('x2', pRight)
    .attr('y1', d => y(d)).attr('y2', d => y(d))
    .attr('stroke', '#fff').attr('stroke-width', 2.6);
  g.selectAll('.xminor').data(xMin).enter().append('line')
    .attr('x1', d => x(d)).attr('x2', d => x(d))
    .attr('y1', pTop).attr('y2', pBottom)
    .attr('stroke', '#fff').attr('stroke-width', 3.2);
  g.selectAll('.ymajor').data(p.ticks).enter().append('line')
    .attr('x1', pLeft).attr('x2', pRight)
    .attr('y1', d => y(d)).attr('y2', d => y(d))
    .attr('stroke', '#fff').attr('stroke-width', 5);
  g.selectAll('.xmajor').data(xMaj).enter().append('line')
    .attr('x1', d => x(d)).attr('x2', d => x(d))
    .attr('y1', pTop).attr('y2', pBottom)
    .attr('stroke', '#fff').attr('stroke-width', 6);

  // data layers clipped to the panel
  const clipId = 'clip' + k;
  g.append('clipPath').attr('id', clipId)
    .append('rect').attr('x', pLeft).attr('y', pTop)
    .attr('width', pRight - pLeft).attr('height', pBottom - pTop);
  const layer = g.append('g').attr('clip-path', `url(#${clipId})`);

  layer.selectAll('ellipse').data(p.prev).enter().append('ellipse')
    .attr('cx', d => x(toDate(d[0])))
    .attr('cy', d => y(d[1]))
    .attr('rx', 12.5).attr('ry', 10.5)
    .attr('fill', '#BEBEBE');

  const lineOf = fy => d3.line()
    .x(d => x(toDate(d[0])))
    .y(d => y(fy(d)));

  layer.append('path').datum(p.est)
    .attr('d', lineOf(d => d[1] + d[2]))
    .attr('fill', 'none').attr('stroke', red).attr('stroke-width', lineW)
    .attr('stroke-linejoin', 'round');
  layer.append('path').datum(p.est)
    .attr('d', lineOf(d => d[1] - d[2]))
    .attr('fill', 'none').attr('stroke', red).attr('stroke-width', lineW)
    .attr('stroke-linejoin', 'round');
  layer.append('path').datum(p.est)
    .attr('d', lineOf(d => d[1]))
    .attr('fill', 'none').attr('stroke', '#000').attr('stroke-width', lineW)
    .attr('stroke-linejoin', 'round');

  // y axis
  g.selectAll('.ytick').data(p.ticks).enter().append('line')
    .attr('x1', pLeft - 13).attr('x2', pLeft)
    .attr('y1', d => y(d)).attr('y2', d => y(d))
    .attr('stroke', '#333').attr('stroke-width', 5);
  g.selectAll('.ylab').data(p.ticks).enter().append('text')
    .attr('transform', d => `translate(141,${y(d)}) scale(${stretch},1)`)
    .attr('dy', '0.36em')
    .attr('text-anchor', 'end')
    .attr('font-family', font).attr('font-size', 35)
    .attr('fill', '#4D4D4D')
    .text(d => d);

  // x axis
  g.selectAll('.xtick').data(xMaj).enter().append('line')
    .attr('x1', d => x(d)).attr('x2', d => x(d))
    .attr('y1', pBottom).attr('y2', pBottom + 10)
    .attr('stroke', '#333').attr('stroke-width', 6);
  g.selectAll('.xlab').data(xMaj).enter().append('text')
    .attr('transform', d => `translate(${x(d)},${pBottom + 42}) scale(${stretch},1)`)
    .attr('text-anchor', 'middle')
    .attr('font-family', font).attr('font-size', 35)
    .attr('fill', '#4D4D4D')
    .text(d => fmtX(d).replace('-', '\u2212'));

  // titles
  g.append('text')
    .attr('transform', `translate(${(pLeft + pRight) / 2},${pBottom + 91}) scale(1.25,1)`)
    .attr('text-anchor', 'middle')
    .attr('font-family', font).attr('font-size', 42)
    .attr('fill', '#000')
    .text('date');
  g.append('text')
    .attr('transform', `translate(68,${(pTop + pBottom) / 2}) scale(1.2,1) rotate(-90)`)
    .attr('text-anchor', 'middle')
    .attr('font-family', font).attr('font-size', 41.5)
    .attr('fill', '#000')
    .text('log(covid) estimate (previous in grey)');
  g.append('text')
    .attr('transform', `translate(${pLeft},${pTop - 31}) scale(1.3,1)`)
    .attr('font-family', font).attr('font-size', 48)
    .attr('fill', '#000')
    .text(p.title);
});
</script>
</body>
</html>
